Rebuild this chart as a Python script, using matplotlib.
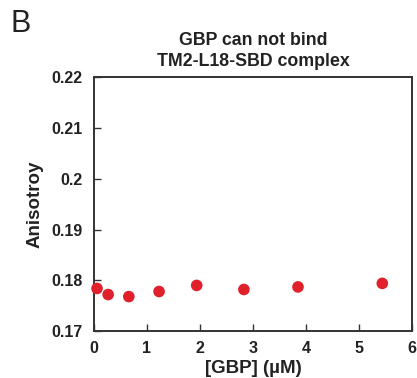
import matplotlib
matplotlib.use("Agg")
import matplotlib.pyplot as plt

plt.rcParams["font.family"] = ["Liberation Sans", "DejaVu Sans"]

# GBP concentration (uM) and anisotropy
gbp = [0.06, 0.27, 0.66, 1.23, 1.94, 2.83, 3.85, 5.44]
aniso = [0.1784, 0.1772, 0.1768, 0.1778, 0.1790, 0.1782, 0.1787, 0.1794]

xticks = [0, 1, 2, 3, 4, 5, 6]
yticks = [0.17, 0.18, 0.19, 0.2, 0.21, 0.22]
ytick_labels = ["0.17", "0.18", "0.19", "0.2", "0.21", "0.22"]

fig = plt.figure(figsize=(4.17, 3.78), dpi=100)
ax = fig.add_axes([0.225, 0.124, 0.763, 0.672])

ax.scatter(gbp, aniso, s=70, color="#e0202a", edgecolors="none", zorder=3, clip_on=False)

ax.set_xlim(0, 6)
ax.set_ylim(0.17, 0.22)
ax.set_xticks(xticks)
ax.set_yticks(yticks)
ax.set_yticklabels(ytick_labels)
ax.tick_params(direction="in", length=5, width=1, colors="#333333", labelcolor="#222222",
               labelsize=11.5)
ax.tick_params(axis="y", pad=8)
ax.tick_params(axis="x", pad=7)
for lab in ax.get_xticklabels() + ax.get_yticklabels():
    lab.set_fontweight("bold")
for sp in ax.spines.values():
    sp.set_linewidth(1.4)
    sp.set_color("#333333")

ax.set_xlabel("[GBP] (\u00b5M)", fontsize=13.5, fontweight="bold", color="#222222", labelpad=3)
ax.set_ylabel("Anisotroy", fontsize=13.5, fontweight="bold", color="#222222", labelpad=6)
ax.set_title("GBP can not bind\nTM2-L18-SBD complex", fontsize=12.8, fontweight="bold",
             color="#222222", pad=8, linespacing=1.3)

fig.text(0.026, 0.975, "B", fontsize=22, va="top", ha="left", color="#222222")

fig.savefig("out.png", dpi=100)
